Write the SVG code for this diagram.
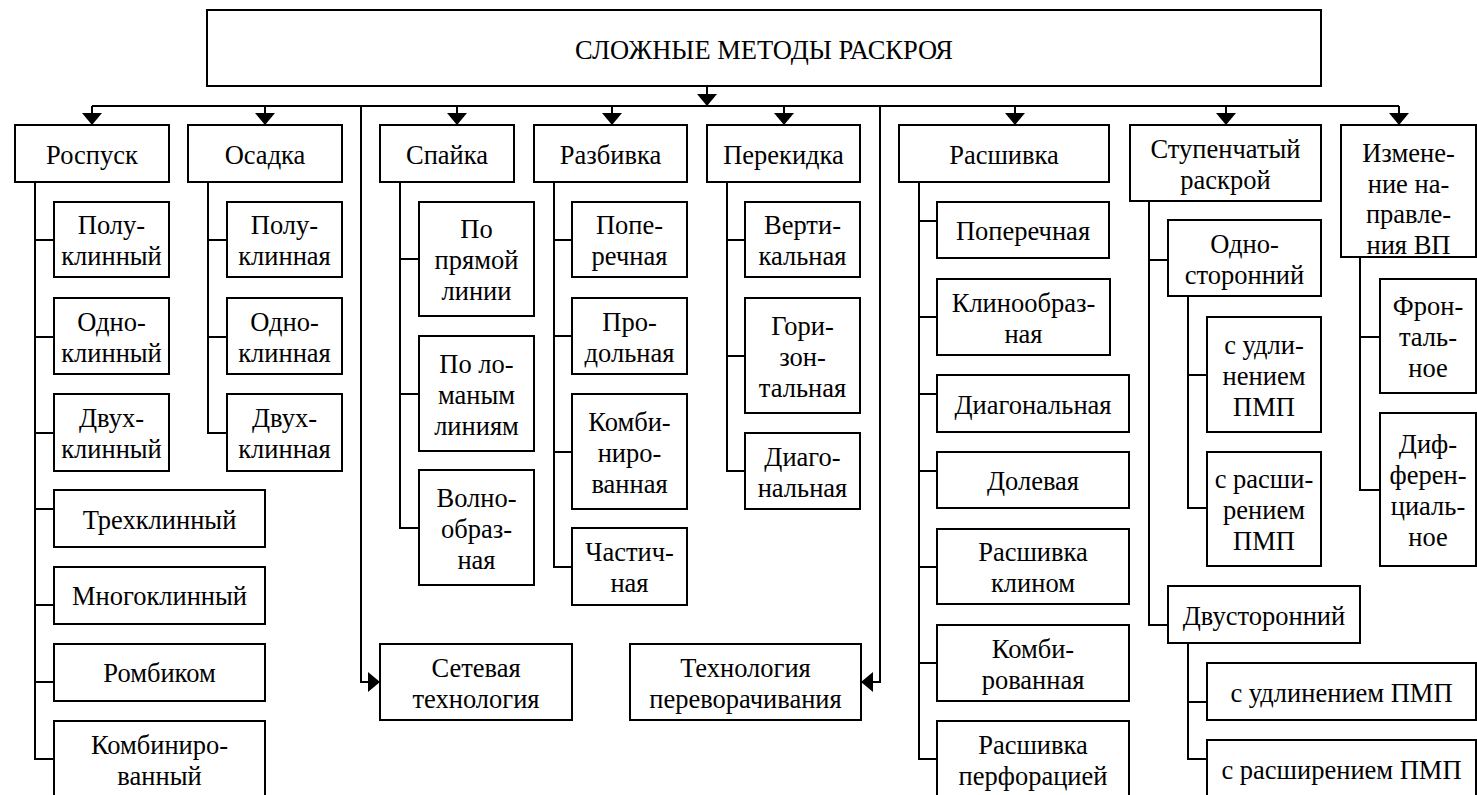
<svg xmlns="http://www.w3.org/2000/svg" width="1477" height="795" viewBox="0 0 1477 795">
<defs>
<marker id="arr" viewBox="0 0 12 20" refX="12" refY="10" markerWidth="12" markerHeight="20" markerUnits="userSpaceOnUse" orient="auto">
<path d="M0,0 L12,10 L0,20 Z" fill="#000"/>
</marker>
<style>
rect{fill:#fff;stroke:#000;stroke-width:2}
.c path{fill:none;stroke:#000;stroke-width:2}
</style>
</defs>
<rect x="0" y="0" width="1477" height="795" style="stroke:none;fill:#fff"/>
<g class="c" id="connectors">
<path d="M92,106 H1399"/>
<path d="M707,86 V106" marker-end="url(#arr)"/>
<path d="M92,106 V125" marker-end="url(#arr)"/>
<path d="M265,106 V125" marker-end="url(#arr)"/>
<path d="M457,106 V125" marker-end="url(#arr)"/>
<path d="M612,106 V125" marker-end="url(#arr)"/>
<path d="M784,106 V125" marker-end="url(#arr)"/>
<path d="M1015,106 V125" marker-end="url(#arr)"/>
<path d="M1226,106 V125" marker-end="url(#arr)"/>
<path d="M1399,106 V125" marker-end="url(#arr)"/>
<path d="M361,106 V682 H380" marker-end="url(#arr)"/>
<path d="M880,106 V682 H861" marker-end="url(#arr)"/>
<path d="M35,182 V759 H54 M35,240 H54 M35,337 H54 M35,433 H54 M35,509 H54 M35,605 H54 M35,682 H54"/>
<path d="M208,182 V433 H227 M208,240 H227 M208,337 H227"/>
<path d="M400,182 V528 H419 M400,259 H419 M400,394 H419"/>
<path d="M554,182 V567 H572 M554,240 H572 M554,336 H572 M554,452 H572"/>
<path d="M727,182 V471 H745 M727,240 H745 M727,356 H745"/>
<path d="M919,182 V759 H937 M919,221 H937 M919,317 H937 M919,394 H937 M919,471 H937 M919,567 H937 M919,663 H937"/>
<path d="M1149,201 V625 H1168 M1149,260 H1168"/>
<path d="M1188,296 V508 H1207 M1188,375 H1207"/>
<path d="M1188,643 V759 H1207 M1188,702 H1207"/>
<path d="M1360,257 V490 H1380 M1360,337 H1380"/>
</g>
<g id="nodes" font-family="'Liberation Serif', 'Times New Roman', serif" font-size="26.5" text-anchor="middle" fill="#000">
<g id="root"><rect x="207" y="10" width="1114" height="76"/><text x="764" y="59">СЛОЖНЫЕ МЕТОДЫ РАСКРОЯ</text></g>
<g id="rospusk"><rect x="15" y="125" width="154" height="57"/><text x="92" y="163.5">Роспуск</text></g>
<g id="osadka"><rect x="188" y="125" width="154" height="57"/><text x="265" y="163.5">Осадка</text></g>
<g id="spayka"><rect x="380" y="125" width="134" height="57"/><text x="447" y="163.5">Спайка</text></g>
<g id="razbivka"><rect x="534" y="125" width="153" height="57"/><text x="610.5" y="163.5">Разбивка</text></g>
<g id="perekidka"><rect x="707" y="125" width="153" height="57"/><text x="783.5" y="163.5">Перекидка</text></g>
<g id="rasshivka"><rect x="899" y="125" width="210" height="57"/><text x="1004" y="163.5">Расшивка</text></g>
<g id="stupen"><rect x="1130" y="125" width="191" height="76"/><text x="1225.5" y="157.5">Ступенчатый</text><text x="1225.5" y="188.5">раскрой</text></g>
<g id="izmen"><rect x="1341" y="125" width="135" height="132"/><text x="1408.5" y="162">Измене-</text><text x="1408.5" y="192.5">ние на-</text><text x="1408.5" y="223">правле-</text><text x="1408.5" y="253.5">ния ВП</text></g>

<g id="r1"><rect x="54" y="202" width="115" height="75"/><text x="111.5" y="234">Полу-</text><text x="111.5" y="265">клинный</text></g>
<g id="r2"><rect x="54" y="298" width="115" height="76"/><text x="111.5" y="330.5">Одно-</text><text x="111.5" y="361.5">клинный</text></g>
<g id="r3"><rect x="54" y="394" width="115" height="77"/><text x="111.5" y="427">Двух-</text><text x="111.5" y="458">клинный</text></g>
<g id="r4"><rect x="54" y="490" width="211" height="57"/><text x="159.5" y="528.5">Трехклинный</text></g>
<g id="r5"><rect x="54" y="567" width="211" height="57"/><text x="159.5" y="604.5">Многоклинный</text></g>
<g id="r6"><rect x="54" y="644" width="211" height="57"/><text x="159.5" y="682">Ромбиком</text></g>
<g id="r7"><rect x="54" y="721" width="211" height="80"/><text x="159.5" y="753.5">Комбиниро-</text><text x="159.5" y="784.5">ванный</text></g>

<g id="o1"><rect x="227" y="202" width="115" height="75"/><text x="284.5" y="234">Полу-</text><text x="284.5" y="265">клинная</text></g>
<g id="o2"><rect x="227" y="298" width="115" height="76"/><text x="284.5" y="330.5">Одно-</text><text x="284.5" y="361.5">клинная</text></g>
<g id="o3"><rect x="227" y="394" width="115" height="77"/><text x="284.5" y="427">Двух-</text><text x="284.5" y="458">клинная</text></g>

<g id="s1"><rect x="419" y="202" width="115" height="114"/><text x="476.5" y="238">По</text><text x="476.5" y="269">прямой</text><text x="476.5" y="300">линии</text></g>
<g id="s2"><rect x="419" y="336" width="115" height="115"/><text x="476.5" y="372.5">По ло-</text><text x="476.5" y="403.5">маным</text><text x="476.5" y="434.5">линиям</text></g>
<g id="s3"><rect x="419" y="470" width="115" height="115"/><text x="476.5" y="506.5">Волно-</text><text x="476.5" y="537.5">образ-</text><text x="476.5" y="568.5">ная</text></g>

<g id="b1"><rect x="572" y="202" width="115" height="75"/><text x="629.5" y="234">Попе-</text><text x="629.5" y="265">речная</text></g>
<g id="b2"><rect x="572" y="298" width="115" height="76"/><text x="629.5" y="330.5">Про-</text><text x="629.5" y="361.5">дольная</text></g>
<g id="b3"><rect x="572" y="394" width="115" height="115"/><text x="629.5" y="430.5">Комби-</text><text x="629.5" y="461.5">ниро-</text><text x="629.5" y="492.5">ванная</text></g>
<g id="b4"><rect x="572" y="528" width="115" height="77"/><text x="629.5" y="561">Частич-</text><text x="629.5" y="592">ная</text></g>

<g id="p1"><rect x="745" y="202" width="115" height="75"/><text x="802.5" y="234">Верти-</text><text x="802.5" y="265">кальная</text></g>
<g id="p2"><rect x="745" y="298" width="115" height="115"/><text x="802.5" y="334.5">Гори-</text><text x="802.5" y="365.5">зон-</text><text x="802.5" y="396.5">тальная</text></g>
<g id="p3"><rect x="745" y="433" width="115" height="76"/><text x="802.5" y="465.5">Диаго-</text><text x="802.5" y="496.5">нальная</text></g>

<g id="set"><rect x="380" y="644" width="192" height="76"/><text x="476" y="676.5">Сетевая</text><text x="476" y="707.5">технология</text></g>
<g id="perevor"><rect x="630" y="644" width="231" height="76"/><text x="745.5" y="676.5">Технология</text><text x="745.5" y="707.5">переворачивания</text></g>

<g id="h1"><rect x="937" y="202" width="172" height="56"/><text x="1023" y="240">Поперечная</text></g>
<g id="h2"><rect x="937" y="279" width="173" height="76"/><text x="1023.5" y="311.5">Клинообраз-</text><text x="1023.5" y="342.5">ная</text></g>
<g id="h3"><rect x="937" y="375" width="192" height="57"/><text x="1033" y="413.5">Диагональная</text></g>
<g id="h4"><rect x="937" y="452" width="192" height="56"/><text x="1033" y="490">Долевая</text></g>
<g id="h5"><rect x="937" y="529" width="192" height="75"/><text x="1033" y="561">Расшивка</text><text x="1033" y="592">клином</text></g>
<g id="h6"><rect x="937" y="625" width="192" height="76"/><text x="1033" y="657.5">Комби-</text><text x="1033" y="688.5">рованная</text></g>
<g id="h7"><rect x="937" y="721" width="192" height="80"/><text x="1033" y="753.5">Расшивка</text><text x="1033" y="784.5">перфорацией</text></g>

<g id="st1"><rect x="1168" y="220" width="153" height="76"/><text x="1244.5" y="252.5">Одно-</text><text x="1244.5" y="283.5">сторонний</text></g>
<g id="st1a"><rect x="1207" y="317" width="114" height="115"/><text x="1264" y="353.5">с удли-</text><text x="1264" y="384.5">нением</text><text x="1264" y="415.5">ПМП</text></g>
<g id="st1b"><rect x="1207" y="452" width="114" height="114"/><text x="1264" y="488">с расши-</text><text x="1264" y="519">рением</text><text x="1264" y="550">ПМП</text></g>
<g id="st2"><rect x="1168" y="586" width="192" height="57"/><text x="1264" y="624.5">Двусторонний</text></g>
<g id="st2a"><rect x="1207" y="663" width="269" height="57"/><text x="1341.5" y="701.5">с удлинением ПМП</text></g>
<g id="st2b"><rect x="1207" y="740" width="269" height="60"/><text x="1341.5" y="778.5">с расширением ПМП</text></g>

<g id="i1"><rect x="1380" y="279" width="96" height="114"/><text x="1428" y="315">Фрон-</text><text x="1428" y="346">таль-</text><text x="1428" y="377">ное</text></g>
<g id="i2"><rect x="1380" y="413" width="96" height="153"/><text x="1428" y="453">Диф-</text><text x="1428" y="484">ферен-</text><text x="1428" y="515">циаль-</text><text x="1428" y="546">ное</text></g>
</g>
</svg>
